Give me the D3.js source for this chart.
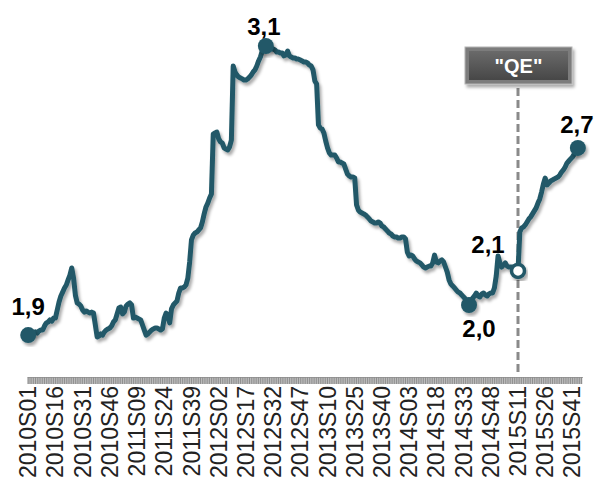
<!DOCTYPE html>
<html>
<head>
<meta charset="utf-8">
<script src="https://cdn.jsdelivr.net/npm/d3@7"></script>
<style>
  html, body { margin: 0; padding: 0; background: #fff; }
  svg { display: block; }
</style>
</head>
<body>
<svg id="chart" width="597" height="482"></svg>
<script>
// Weekly series, 2010S01 .. 2015S44 (axis runs on to 2015S46)
const years = [2010, 2011, 2012, 2013, 2014, 2015];
const weeksPerYear = 52;
const lastAxisWeek = 46;

const tickLabels = [
  "2010S01", "2010S16", "2010S31", "2010S46", "2011S09", "2011S24", "2011S39",
  "2012S02", "2012S17", "2012S32", "2012S47", "2013S10", "2013S25", "2013S40",
  "2014S03", "2014S18", "2014S33", "2014S48", "2015S11", "2015S26", "2015S41"
];

const values = [
  1.863, 1.868, 1.868, 1.872, 1.877, 1.872, 1.881, 1.885, 1.885, 1.903,
  1.916, 1.920, 1.929, 1.924, 1.937, 1.937, 1.972, 2.007, 2.033, 2.050,
  2.068, 2.081, 2.103, 2.124, 2.155, 2.111, 2.037, 2.003, 1.998, 1.990,
  1.972, 1.963, 1.968, 1.963, 1.959, 1.963, 1.959, 1.907, 1.855, 1.859,
  1.868, 1.863, 1.877, 1.885, 1.890, 1.894, 1.903, 1.920, 1.929, 1.955,
  1.981, 1.985, 1.955, 1.963, 1.990, 1.998, 2.003, 1.994, 1.937, 1.942,
  1.937, 1.933, 1.929, 1.907, 1.885, 1.863, 1.868, 1.877, 1.885, 1.890,
  1.894, 1.894, 1.890, 1.885, 1.890, 1.937, 1.959, 1.946, 1.916, 1.977,
  1.994, 2.003, 2.011, 2.046, 2.068, 2.068, 2.072, 2.081, 2.111, 2.181,
  2.277, 2.298, 2.307, 2.311, 2.320, 2.329, 2.355, 2.390, 2.420, 2.437,
  2.459, 2.477, 2.737, 2.742, 2.746, 2.716, 2.703, 2.698, 2.677, 2.672,
  2.668, 2.681, 2.711, 3.033, 3.007, 2.994, 2.985, 2.981, 2.977, 2.972,
  2.972, 2.977, 2.985, 2.994, 3.007, 3.016, 3.033, 3.055, 3.072, 3.098,
  3.116, 3.120, 3.116, 3.116, 3.111, 3.107, 3.103, 3.094, 3.094, 3.090,
  3.090, 3.077, 3.081, 3.098, 3.077, 3.072, 3.068, 3.068, 3.063, 3.063,
  3.059, 3.055, 3.050, 3.050, 3.046, 3.037, 3.033, 3.016, 2.968, 2.955,
  2.777, 2.763, 2.759, 2.742, 2.707, 2.677, 2.655, 2.646, 2.646, 2.646,
  2.633, 2.616, 2.616, 2.611, 2.607, 2.585, 2.563, 2.555, 2.550, 2.550,
  2.546, 2.429, 2.407, 2.398, 2.394, 2.390, 2.385, 2.377, 2.368, 2.359,
  2.355, 2.350, 2.350, 2.355, 2.350, 2.337, 2.333, 2.324, 2.316, 2.307,
  2.303, 2.294, 2.290, 2.290, 2.285, 2.285, 2.290, 2.290, 2.281, 2.224,
  2.207, 2.211, 2.207, 2.194, 2.185, 2.181, 2.177, 2.168, 2.159, 2.155,
  2.159, 2.163, 2.163, 2.177, 2.211, 2.181, 2.177, 2.185, 2.190, 2.181,
  2.159, 2.137, 2.103, 2.085, 2.077, 2.068, 2.059, 2.050, 2.046, 2.037,
  2.029, 2.020, 2.007, 1.994, 2.007, 2.024, 2.033, 2.046, 2.033, 2.029,
  2.042, 2.046, 2.037, 2.033, 2.042, 2.046, 2.046, 2.068, 2.120, 2.207,
  2.177, 2.159, 2.168, 2.177, 2.163, 2.159, 2.159, 2.159, 2.155, 2.146,
  2.142, 2.311, 2.329, 2.333, 2.342, 2.355, 2.368, 2.377, 2.390, 2.403,
  2.416, 2.437, 2.455, 2.485, 2.520, 2.546, 2.516, 2.524, 2.533, 2.537,
  2.542, 2.546, 2.550, 2.559, 2.572, 2.581, 2.594, 2.611, 2.620, 2.629,
  2.637, 2.650, 2.663, 2.677
];

// Weeks that carry a value label
const labelledWeeks = ["2010S01", "2012S28", "2014S36", "2015S11", "2015S44"];
const qeWeek = "2015S11";
const qeText = "\"QE\"";

// ---- build categories ----
const categories = [];
years.forEach(yr => {
  const n = yr === years[years.length - 1] ? lastAxisWeek : weeksPerYear;
  for (let w = 1; w <= n; w++) categories.push(`${yr}S${String(w).padStart(2, "0")}`);
});
const series = values.map((v, i) => ({ week: categories[i], value: v }));
const byWeek = new Map(series.map(d => [d.week, d]));

const fmt = d3.formatLocale({ decimal: ",", thousands: ".", grouping: [3], currency: ["", "€"] }).format(".1f");

const svg = d3.select("#chart");
const lineColor = "#215968";
const fontFamily = "'Liberation Sans', Arial, Helvetica, sans-serif";

const defs = svg.append("defs");
defs.append("filter").attr("id", "shadow")
  .attr("x", "-20%").attr("y", "-20%").attr("width", "140%").attr("height", "140%")
  .append("feDropShadow")
  .attr("dx", 2).attr("dy", 3).attr("stdDeviation", 1.6)
  .attr("flood-color", "#000").attr("flood-opacity", 0.33);

const boxGrad = defs.append("linearGradient").attr("id", "boxGrad")
  .attr("x1", 0).attr("y1", 0).attr("x2", 0).attr("y2", 1);
boxGrad.append("stop").attr("offset", "0%").attr("stop-color", "#6a6a6a");
boxGrad.append("stop").attr("offset", "100%").attr("stop-color", "#474747");

const x = d3.scaleBand().domain(categories).range([27.3, 582.4]);
const cx = c => x(c) + x.bandwidth() / 2;
const y = d3.scaleLinear().domain([1.8, 3.2]).range([349.6, 27.6]);

// ---- category axis: one tick per week ----
const axisY = 377;
const axisG = svg.append("g").attr("transform", `translate(0,${axisY})`);
axisG.append("rect")
  .attr("x", x.range()[0]).attr("y", 0)
  .attr("width", x.range()[1] - x.range()[0]).attr("height", 7)
  .attr("fill", "#c6c6c6");
axisG.call(
  d3.axisBottom(x).tickValues(categories).tickSize(7).tickSizeOuter(0).tickFormat("")
);
axisG.selectAll(".tick line").attr("stroke", "#8e8e8e").attr("stroke-width", 1);
axisG.select(".domain").attr("stroke", "#9a9a9a").attr("stroke-width", 1);

svg.append("g").selectAll("text")
  .data(tickLabels)
  .join("text")
  .attr("transform", d => `translate(${cx(d)},386) rotate(-90)`)
  .attr("text-anchor", "end")
  .attr("dy", "0.35em")
  .attr("font-family", fontFamily)
  .attr("font-size", 23)
  .attr("fill", "#222")
  .text(d => d);

// ---- QE marker ----
const qx = cx(qeWeek);
svg.append("line")
  .attr("x1", qx).attr("x2", qx).attr("y1", 88).attr("y2", 373)
  .attr("stroke", "#8a8a8a").attr("stroke-width", 3)
  .attr("stroke-dasharray", "8,4");

const box = svg.append("g").attr("transform", `translate(${qx - 53},47)`);
box.append("rect").attr("width", 107).attr("height", 37)
  .attr("fill", "#7c7c7c").attr("stroke", "#b4b4b4").attr("stroke-width", 1)
  .attr("filter", "url(#shadow)");
box.append("rect").attr("x", 4).attr("y", 4).attr("width", 99).attr("height", 29)
  .attr("fill", "url(#boxGrad)");
box.append("text")
  .attr("x", 53.5).attr("y", 26)
  .attr("text-anchor", "middle")
  .attr("font-family", fontFamily).attr("font-weight", "bold")
  .attr("font-size", 20).attr("fill", "#fff")
  .text(qeText);

// ---- series line ----
const line = d3.line().x(d => cx(d.week)).y(d => y(d.value));
svg.append("path")
  .datum(series)
  .attr("d", line)
  .attr("fill", "none")
  .attr("stroke", lineColor)
  .attr("stroke-width", 5)
  .attr("stroke-linejoin", "round")
  .attr("stroke-linecap", "round")
  .attr("filter", "url(#shadow)");

// ---- labelled points ----
const labelOffsets = {
  "2010S01": [0, -20],
  "2012S28": [-2, -11],
  "2014S36": [10, 32],
  "2015S11": [-30, -18],
  "2015S44": [-1, -15]
};
const pts = labelledWeeks.map(w => byWeek.get(w));

svg.append("g").selectAll("circle")
  .data(pts)
  .join("circle")
  .attr("cx", d => cx(d.week))
  .attr("cy", d => y(d.value))
  .attr("r", d => d.week === qeWeek ? 6.5 : 8)
  .attr("fill", d => d.week === qeWeek ? "#fff" : lineColor)
  .attr("stroke", lineColor)
  .attr("stroke-width", d => d.week === qeWeek ? 3.5 : 0)
  .attr("filter", "url(#shadow)");

svg.append("g").selectAll("text")
  .data(pts)
  .join("text")
  .attr("x", d => cx(d.week) + labelOffsets[d.week][0])
  .attr("y", d => y(d.value) + labelOffsets[d.week][1])
  .attr("text-anchor", "middle")
  .attr("font-family", fontFamily)
  .attr("font-weight", "bold")
  .attr("font-size", 24)
  .attr("fill", "#000")
  .text(d => fmt(d.value));
</script>
</body>
</html>
